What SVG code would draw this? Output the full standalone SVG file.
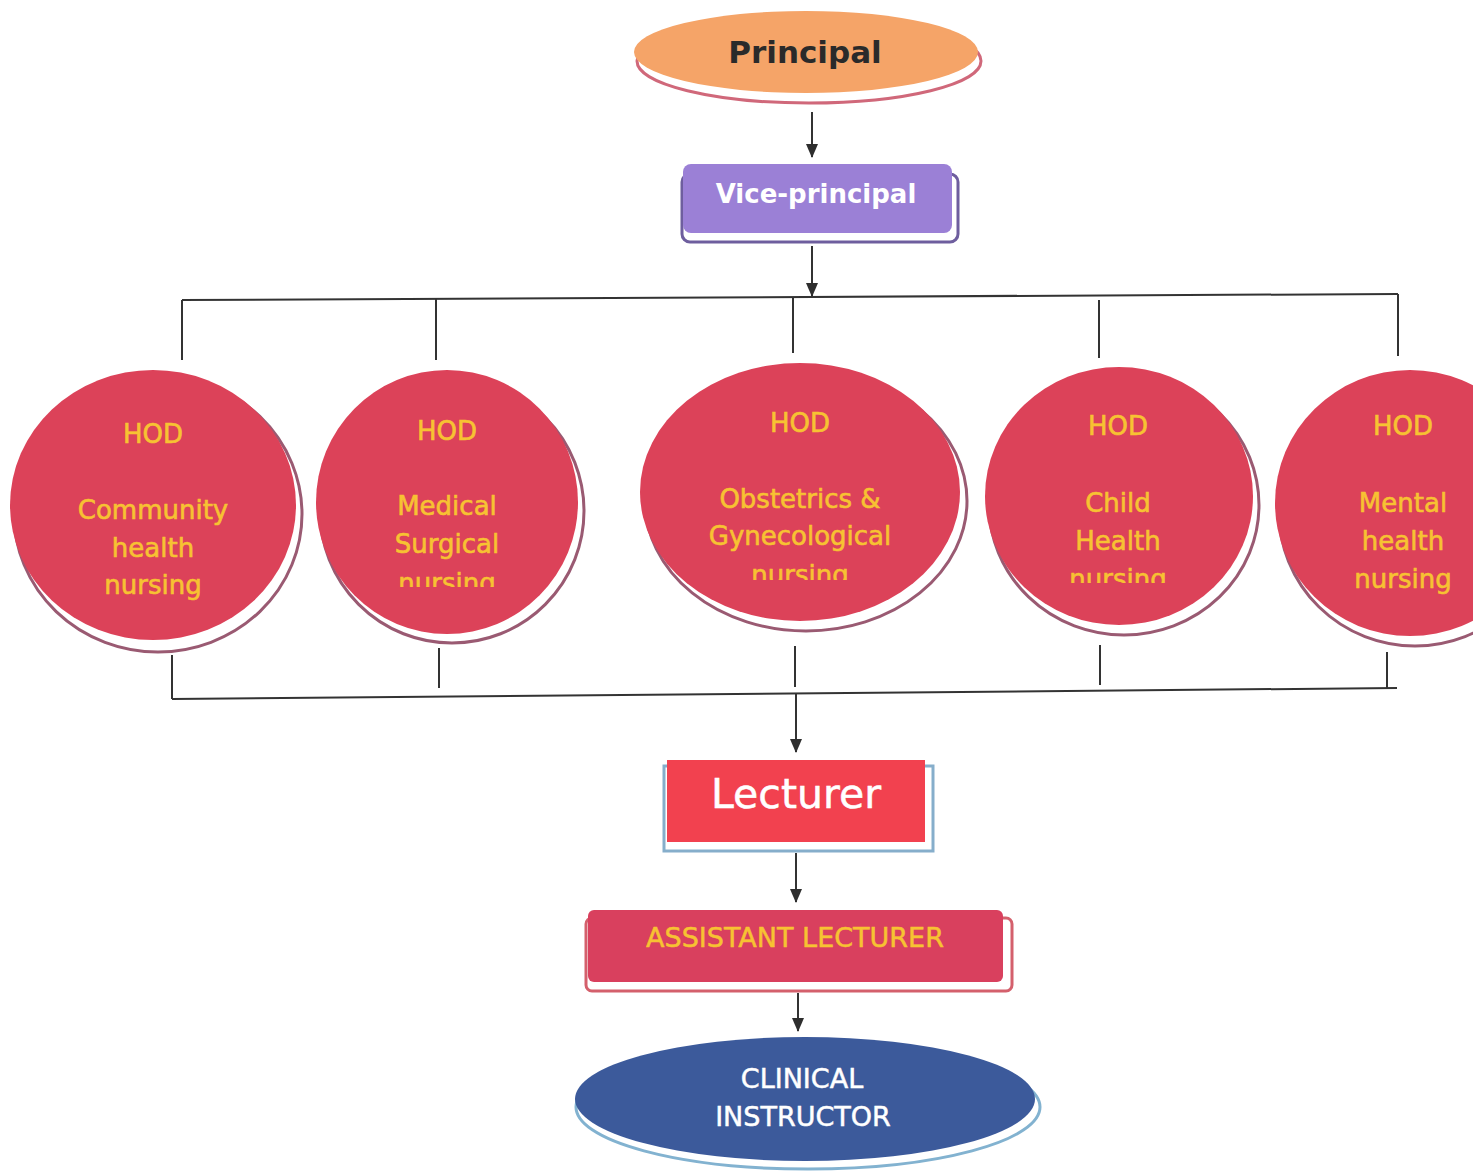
<svg xmlns="http://www.w3.org/2000/svg" width="1473" height="1172" viewBox="0 0 1473 1172">
<defs>
<marker id="ah" markerWidth="14" markerHeight="14" refX="13" refY="7" orient="auto" markerUnits="userSpaceOnUse" viewBox="0 0 14 14">
<path d="M0,1 L14,7 L0,13 Z" fill="#2e2e2e"/>
</marker>
<clipPath id="c2"><rect x="0" y="0" width="1473" height="587"/></clipPath>
<clipPath id="c3"><rect x="0" y="0" width="1473" height="580"/></clipPath>
<clipPath id="c4"><rect x="0" y="0" width="1473" height="583"/></clipPath>
</defs>
<style>
.ln{stroke:#333;stroke-width:2;fill:none}
.hod{fill:#dc4259}
.hsh{fill:#fff;stroke:#9a5a72;stroke-width:3}
.ht{font-family:"DejaVu Sans",Verdana,sans-serif;font-size:26px;fill:#f7c232;stroke:#f7c232;stroke-width:0.6;text-anchor:middle}
</style>
<rect width="1473" height="1172" fill="#fff"/>

<g id="connectors">
<line class="ln" x1="812" y1="112" x2="812" y2="157" marker-end="url(#ah)"/>
<line class="ln" x1="812" y1="246" x2="812" y2="296" marker-end="url(#ah)"/>
<line class="ln" x1="182" y1="300" x2="1398" y2="294"/>
<line class="ln" x1="182" y1="300" x2="182" y2="360"/>
<line class="ln" x1="436" y1="299" x2="436" y2="360"/>
<line class="ln" x1="793" y1="297" x2="793" y2="353"/>
<line class="ln" x1="1099" y1="300" x2="1099" y2="358"/>
<line class="ln" x1="1398" y1="294" x2="1398" y2="356"/>
<line class="ln" x1="172" y1="655" x2="172" y2="699"/>
<line class="ln" x1="172" y1="699" x2="1397" y2="688"/>
<line class="ln" x1="439" y1="648" x2="439" y2="688"/>
<line class="ln" x1="795" y1="646" x2="795" y2="687"/>
<line class="ln" x1="1100" y1="645" x2="1100" y2="685"/>
<line class="ln" x1="1387" y1="652" x2="1387" y2="688"/>
<line class="ln" x1="796" y1="694" x2="796" y2="752" marker-end="url(#ah)"/>
<line class="ln" x1="796" y1="853" x2="796" y2="902" marker-end="url(#ah)"/>
<line class="ln" x1="798" y1="993" x2="798" y2="1031" marker-end="url(#ah)"/>
</g>

<g id="principal">
<ellipse cx="809" cy="61" rx="172" ry="42" fill="#fff" stroke="#d0687a" stroke-width="3"/>
<ellipse cx="806" cy="52" rx="172" ry="41" fill="#f5a468"/>
<text x="805" y="63" font-family="'DejaVu Sans',Verdana,sans-serif" font-size="31" font-weight="bold" fill="#2a2a2a" text-anchor="middle">Principal</text>
</g>

<g id="vice-principal">
<rect x="682" y="174" width="276" height="68" rx="8" fill="#fff" stroke="#6e5e9e" stroke-width="3"/>
<rect x="683" y="164" width="269" height="69" rx="8" fill="#9b80d6"/>
<text x="816" y="203" font-family="'DejaVu Sans',Verdana,sans-serif" font-size="26" font-weight="bold" fill="#fff" text-anchor="middle">Vice-principal</text>
</g>

<g id="hod-community">
<ellipse class="hsh" cx="158" cy="514" rx="144" ry="138"/>
<ellipse class="hod" cx="153" cy="505" rx="143" ry="135"/>
<text class="ht" x="153" y="443">HOD</text>
<text class="ht" x="153" y="519">Community</text>
<text class="ht" x="153" y="557">health</text>
<text class="ht" x="153" y="594">nursing</text>
</g>

<g id="hod-medical">
<ellipse class="hsh" cx="452" cy="511" rx="132" ry="132"/>
<ellipse class="hod" cx="447" cy="502" rx="131" ry="132"/>
<text class="ht" x="447" y="440">HOD</text>
<text class="ht" x="447" y="515">Medical</text>
<text class="ht" x="447" y="553">Surgical</text>
<text class="ht" x="447" y="592" clip-path="url(#c2)">nursing</text>
</g>

<g id="hod-obstetrics">
<ellipse class="hsh" cx="806" cy="501" rx="161" ry="130"/>
<ellipse class="hod" cx="800" cy="492" rx="160" ry="129"/>
<text class="ht" x="800" y="432">HOD</text>
<text class="ht" x="800" y="508">Obstetrics &amp;</text>
<text class="ht" x="800" y="545">Gynecological</text>
<text class="ht" x="800" y="584" clip-path="url(#c3)">nursing</text>
</g>

<g id="hod-child">
<ellipse class="hsh" cx="1124" cy="505" rx="135" ry="130"/>
<ellipse class="hod" cx="1119" cy="496" rx="134" ry="129"/>
<text class="ht" x="1118" y="435">HOD</text>
<text class="ht" x="1118" y="512">Child</text>
<text class="ht" x="1118" y="550">Health</text>
<text class="ht" x="1118" y="588" clip-path="url(#c4)">nursing</text>
</g>

<g id="hod-mental">
<ellipse class="hsh" cx="1415" cy="512" rx="136" ry="134"/>
<ellipse class="hod" cx="1410" cy="503" rx="135" ry="133"/>
<text class="ht" x="1403" y="435">HOD</text>
<text class="ht" x="1403" y="512">Mental</text>
<text class="ht" x="1403" y="550">health</text>
<text class="ht" x="1403" y="588">nursing</text>
</g>

<g id="lecturer">
<rect x="664" y="766" width="269" height="85" fill="#fff" stroke="#86aecb" stroke-width="3"/>
<rect x="667" y="760" width="258" height="82" fill="#f2414f"/>
<text x="796" y="808" font-family="'DejaVu Sans',Verdana,sans-serif" font-size="41" fill="#fff" stroke="#fff" stroke-width="0.5" text-anchor="middle">Lecturer</text>
</g>

<g id="assistant-lecturer">
<rect x="586" y="918" width="426" height="73" rx="6" fill="#fff" stroke="#d4606c" stroke-width="3"/>
<rect x="588" y="910" width="415" height="72" rx="6" fill="#d9405e"/>
<text x="795" y="947" font-family="'DejaVu Sans',Verdana,sans-serif" font-size="27" fill="#f7c232" stroke="#f7c232" stroke-width="0.5" text-anchor="middle">ASSISTANT LECTURER</text>
</g>

<g id="clinical-instructor">
<ellipse cx="808" cy="1107" rx="232" ry="62" fill="#fff" stroke="#82b2d0" stroke-width="3"/>
<ellipse cx="805" cy="1099" rx="230" ry="62" fill="#3c5a9b"/>
<text x="802" y="1088" font-family="'DejaVu Sans',Verdana,sans-serif" font-size="27" fill="#fff" stroke="#fff" stroke-width="0.5" text-anchor="middle">CLINICAL</text>
<text x="803" y="1126" font-family="'DejaVu Sans',Verdana,sans-serif" font-size="27" fill="#fff" stroke="#fff" stroke-width="0.5" text-anchor="middle">INSTRUCTOR</text>
</g>
</svg>
